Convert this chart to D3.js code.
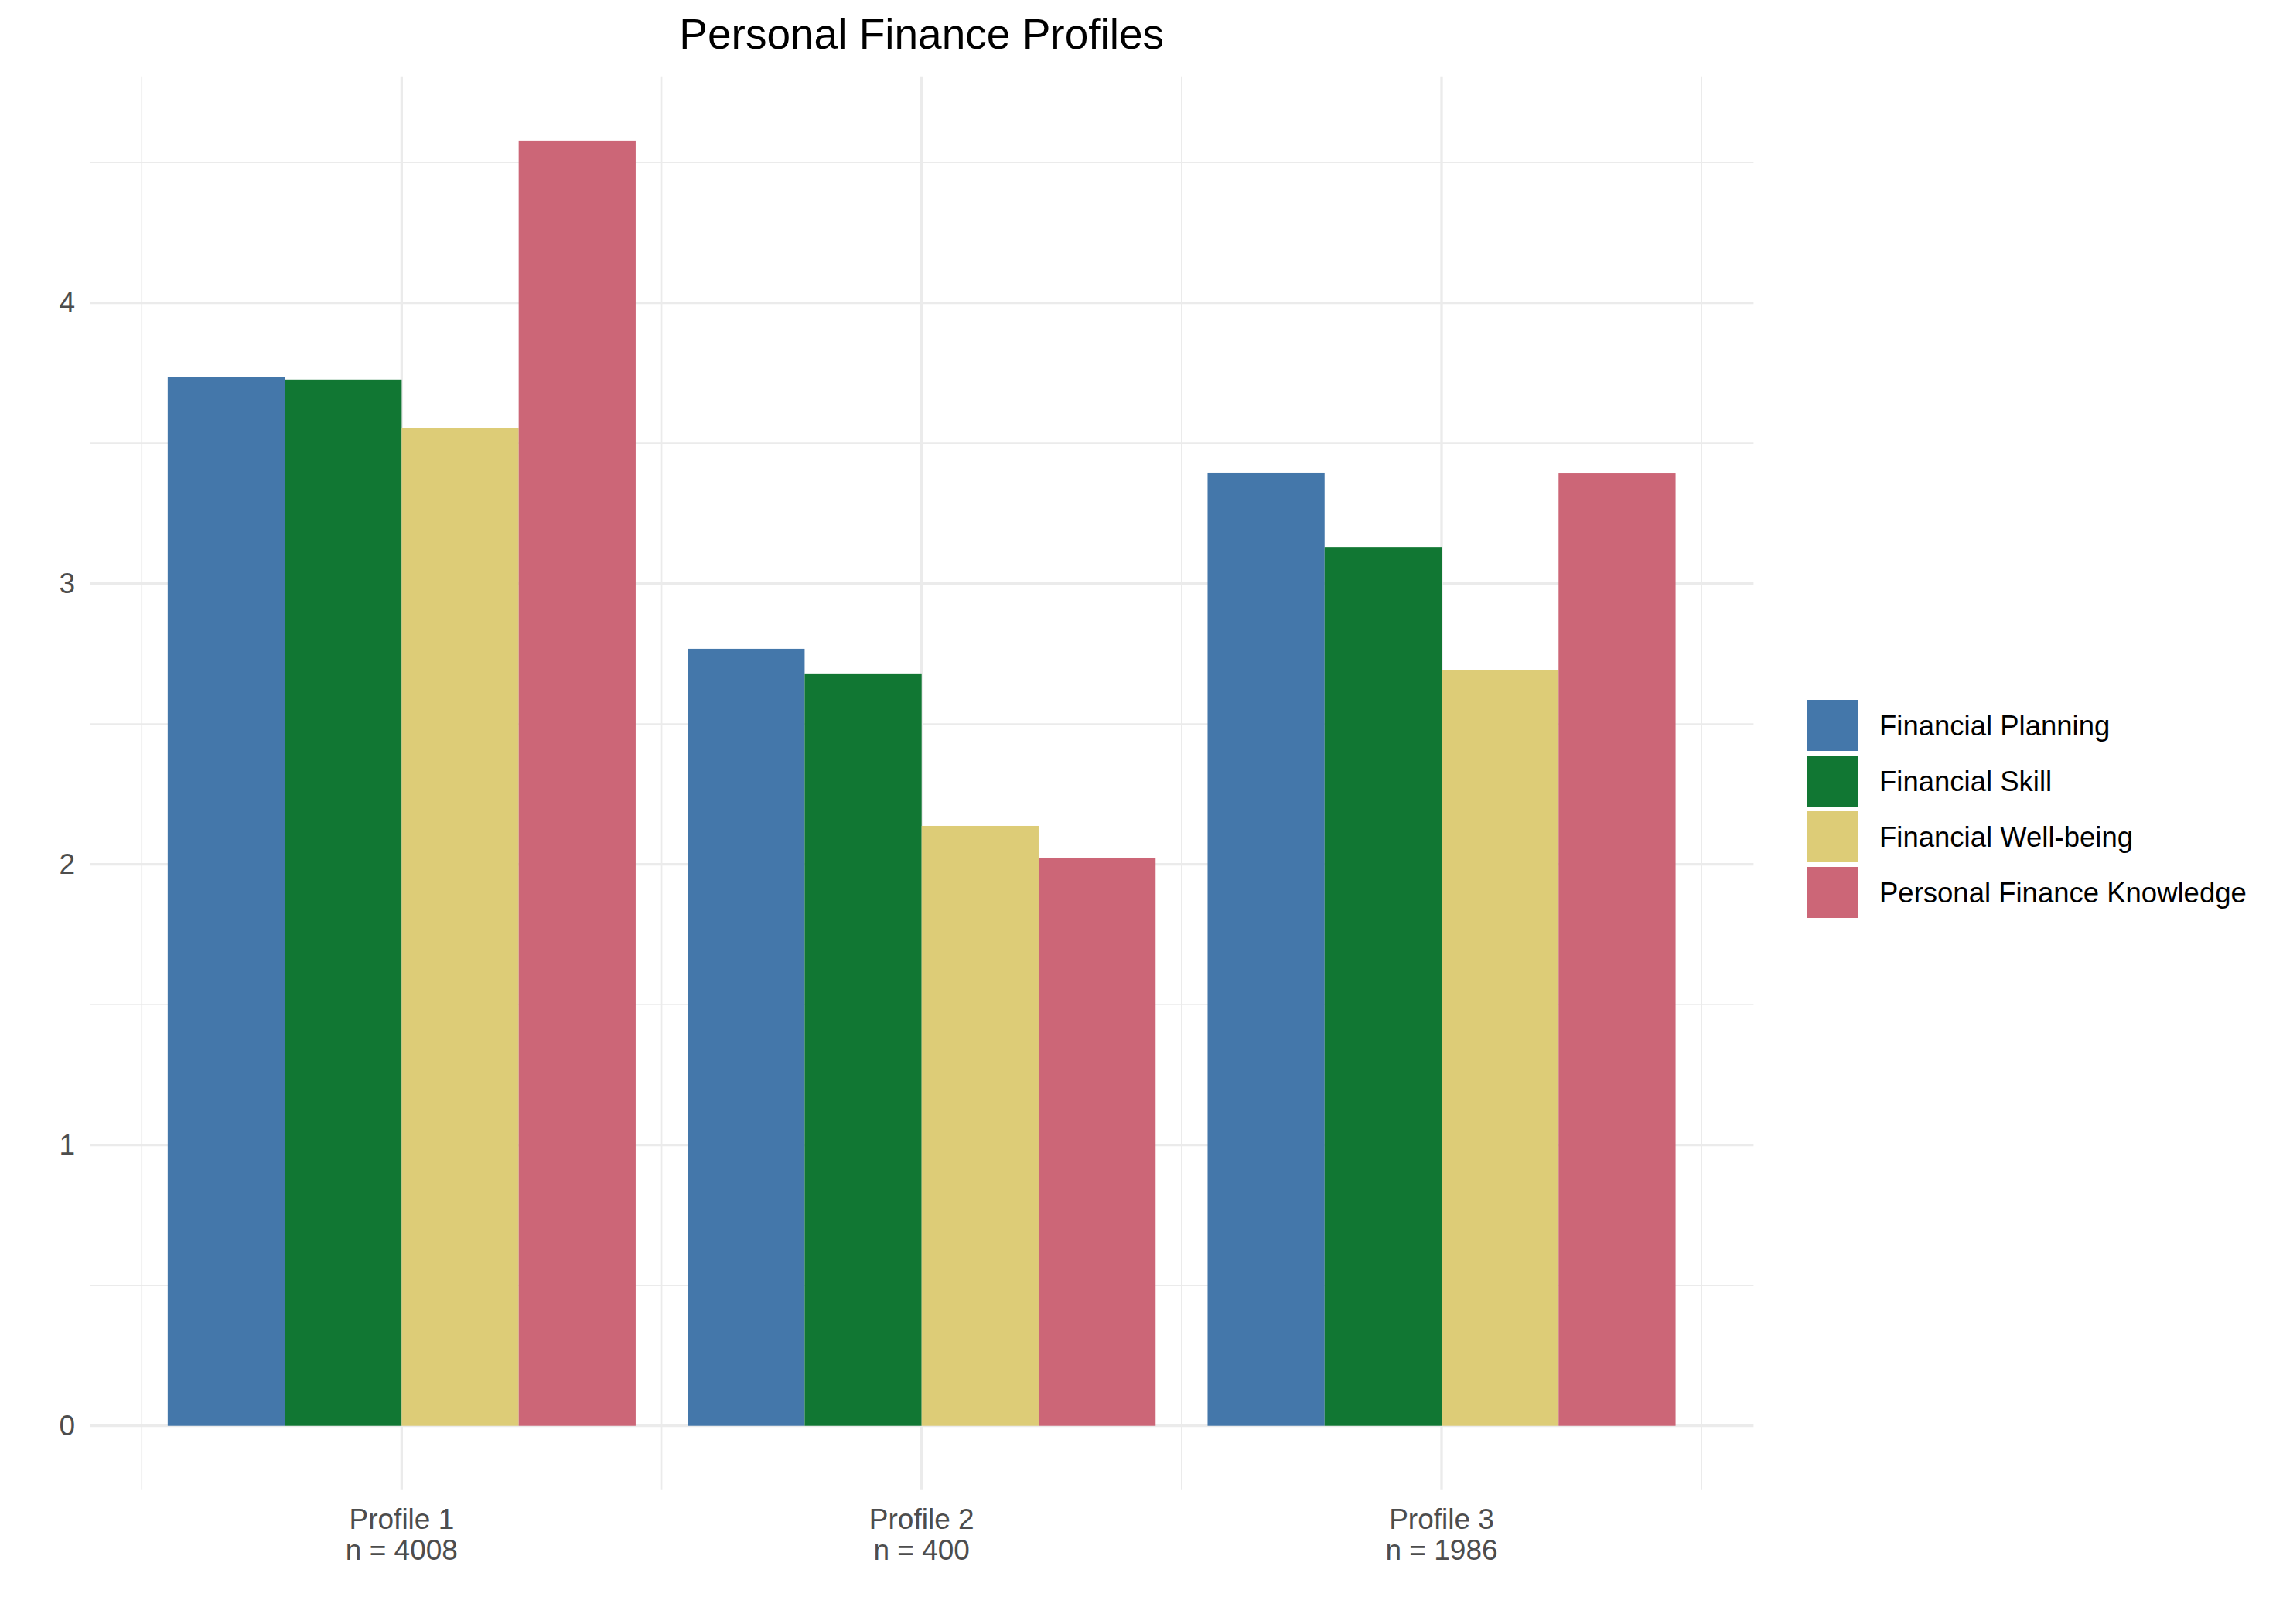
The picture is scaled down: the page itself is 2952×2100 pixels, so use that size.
<!DOCTYPE html>
<html>
<head>
<meta charset="utf-8">
<script src="https://cdn.jsdelivr.net/npm/d3@7"></script>
<style>
  body { margin: 0; background: #fff; }
  text { font-family: "Liberation Sans", Arial, sans-serif; }
</style>
</head>
<body>
<div id="chart"></div>
<script>
// data
const profiles = ["Profile 1", "Profile 2", "Profile 3"];
const sampleSizes = [4008, 400, 1986];
const measures = ["Financial Planning", "Financial Skill", "Financial Well-being", "Personal Finance Knowledge"];
const planning  = [3.737, 2.768, 3.396];
const skill     = [3.727, 2.680, 3.131];
const wellbeing = [3.553, 2.137, 2.693];
const knowledge = [4.578, 2.024, 3.393];
const yTicks = [0, 1, 2, 3, 4];
const colors = ["#4477AA", "#117733", "#DDCC77", "#CC6677"];

const seriesValues = [planning, skill, wellbeing, knowledge];
const rows = [];
profiles.forEach((p, i) => {
    measures.forEach((m, j) => {
        rows.push({profile: p, measure: m, value: seriesValues[j][i]});
    });
});

// layout
const W = 2952, H = 2100;
const panel = {left: 116, right: 2267.4, top: 98.8, bottom: 1926.8};

const svg = d3.select("#chart")
    .append("svg")
    .attr("width", W)
    .attr("height", H);

// scales
const x0 = d3.scaleBand()
    .domain(profiles)
    .range([panel.left, panel.right])
    .paddingInner(0.1)
    .paddingOuter(0.15);

const x1 = d3.scaleBand()
    .domain(measures)
    .range([0, x0.bandwidth()]);

const ymax = d3.max(rows, d => d.value);
const y = d3.scaleLinear()
    .domain([-0.05 * ymax, ymax * 1.05])
    .range([panel.bottom, panel.top]);

const color = d3.scaleOrdinal().domain(measures).range(colors);

// grid
const grid = svg.append("g").attr("class", "grid");
const minorY = d3.range(0.5, ymax * 1.05, 1);
grid.selectAll("line.minorY")
    .data(minorY)
    .join("line")
    .attr("x1", panel.left).attr("x2", panel.right)
    .attr("y1", d => y(d)).attr("y2", d => y(d))
    .attr("stroke", "#EBEBEB").attr("stroke-width", 1.7);

grid.selectAll("line.majorY")
    .data(yTicks)
    .join("line")
    .attr("x1", panel.left).attr("x2", panel.right)
    .attr("y1", d => y(d)).attr("y2", d => y(d))
    .attr("stroke", "#EBEBEB").attr("stroke-width", 3.3);

const centers = profiles.map(p => x0(p) + x0.bandwidth() / 2);
const minorX = [centers[0] - x0.step() / 2].concat(centers.map(c => c + x0.step() / 2));
grid.selectAll("line.minorX")
    .data(minorX)
    .join("line")
    .attr("x1", d => d).attr("x2", d => d)
    .attr("y1", panel.top).attr("y2", panel.bottom)
    .attr("stroke", "#EBEBEB").attr("stroke-width", 1.7);

grid.selectAll("line.majorX")
    .data(centers)
    .join("line")
    .attr("x1", d => d).attr("x2", d => d)
    .attr("y1", panel.top).attr("y2", panel.bottom)
    .attr("stroke", "#EBEBEB").attr("stroke-width", 3.3);

// bars
svg.append("g")
    .selectAll("rect")
    .data(rows)
    .join("rect")
    .attr("x", d => x0(d.profile) + x1(d.measure))
    .attr("y", d => y(d.value))
    .attr("width", x1.bandwidth())
    .attr("height", d => y(0) - y(d.value))
    .attr("fill", d => color(d.measure));

// y axis
const yAxis = svg.append("g")
    .attr("transform", `translate(${panel.left},0)`)
    .call(d3.axisLeft(y).tickValues(yTicks).tickSize(0).tickPadding(19).tickFormat(d3.format("d")));
yAxis.select(".domain").remove();
yAxis.selectAll("text")
    .style("font-size", "37px")
    .attr("fill", "#4D4D4D");

// x axis, two line labels
const xAxis = svg.append("g")
    .attr("transform", `translate(0,${panel.bottom})`)
    .call(d3.axisBottom(x0).tickSize(0));
xAxis.select(".domain").remove();
xAxis.selectAll(".tick text")
    .attr("dy", null)
    .attr("y", 0)
    .style("font-size", "37px")
    .attr("fill", "#4D4D4D")
    .text(null)
    .each(function(p, i) {
        const t = d3.select(this);
        t.append("tspan").attr("x", 0).attr("y", 50).text(p);
        t.append("tspan").attr("x", 0).attr("y", 90).text("n = " + sampleSizes[i]);
    });

// title
svg.append("text")
    .attr("x", (panel.left + panel.right) / 2)
    .attr("y", 63)
    .attr("text-anchor", "middle")
    .style("font-size", "55px")
    .attr("fill", "#000")
    .text("Personal Finance Profiles");

// legend
const legend = svg.append("g")
    .attr("transform", "translate(2336,905)");

const item = legend.selectAll("g")
    .data(measures)
    .join("g")
    .attr("transform", (d, i) => `translate(0,${i * 72})`);

item.append("rect")
    .attr("width", 66)
    .attr("height", 66)
    .attr("fill", d => color(d));

item.append("text")
    .attr("x", 94)
    .attr("y", 33)
    .attr("dy", "0.36em")
    .style("font-size", "36.5px")
    .attr("fill", "#000")
    .text(d => d);
</script>
</body>
</html>
